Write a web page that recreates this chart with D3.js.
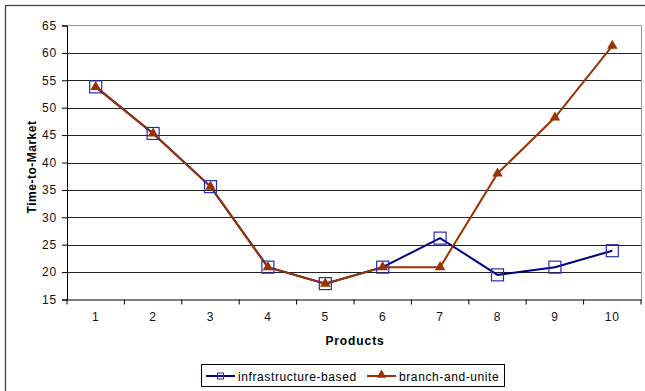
<!DOCTYPE html>
<html>
<head>
<meta charset="utf-8">
<script src="https://cdn.jsdelivr.net/npm/d3@7"></script>
<style>
  body { margin: 0; background: #fff; }
  text { font-family: Arial, "Liberation Sans", sans-serif; }
</style>
</head>
<body>
<div id="chart"></div>
<script>
const products = [1, 2, 3, 4, 5, 6, 7, 8, 9, 10];
const infrastructureBased = [53.8, 45.3, 35.6, 20.9, 17.9, 20.9, 26.2, 19.5, 20.9, 23.9];
const branchAndUnite = [53.8, 45.3, 35.6, 20.9, 17.9, 20.9, 20.9, 38, 48.2, 61.3];
const yTicks = [15, 20, 25, 30, 35, 40, 45, 50, 55, 60, 65];

const width = 645, height = 391;
const plotLeft = 67, plotRight = 641, plotTop = 25.5, plotBottom = 299.5;
const font = 'Arial, "Liberation Sans", sans-serif';

const svg = d3.select('#chart').append('svg')
    .attr('width', width)
    .attr('height', height);

// outer chart frame
svg.append('rect')
    .attr('x', 5.5).attr('y', 5.5)
    .attr('width', 650).attr('height', 400)
    .attr('fill', 'none')
    .attr('stroke', '#444')
    .attr('stroke-width', 1.3);

const x = d3.scaleBand().domain(products).range([plotLeft, plotRight]);
const y = d3.scaleLinear().domain([15, 65]).range([plotBottom, plotTop]);

// gridlines
svg.append('g')
    .selectAll('line')
    .data(yTicks.slice(1, -1))
    .enter().append('line')
    .attr('x1', plotLeft).attr('x2', plotRight)
    .attr('y1', d => Math.round(y(d)) + 0.5)
    .attr('y2', d => Math.round(y(d)) + 0.5)
    .attr('stroke', '#222');

// plot area border (top and right)
svg.append('path')
    .attr('d', `M${plotLeft},${plotTop}H${plotRight + 0.5}V${plotBottom}`)
    .attr('fill', 'none')
    .attr('stroke', '#999');

// y axis
const yAxis = svg.append('g')
    .attr('transform', `translate(${plotLeft},0)`)
    .call(d3.axisLeft(y).tickValues(yTicks).tickSize(5).tickPadding(5));
yAxis.select('.domain').attr('stroke', '#000');
yAxis.selectAll('line').attr('stroke', '#000');
yAxis.selectAll('text').attr('font-size', 12).attr('fill', '#111')
    .attr('letter-spacing', 0.8)
    .style('font-family', font);

// x axis
const xAxis = svg.append('g')
    .attr('transform', `translate(0,${plotBottom})`)
    .call(d3.axisBottom(x).tickSize(0).tickPadding(13));
xAxis.select('.domain').attr('stroke', '#000');
xAxis.selectAll('text').attr('font-size', 12).attr('fill', '#111')
    .attr('letter-spacing', 0.8)
    .style('font-family', font);
// category boundary ticks
svg.append('g')
    .selectAll('line')
    .data(products.concat([null]))
    .enter().append('line')
    .attr('x1', (d, i) => plotLeft + i * x.step())
    .attr('x2', (d, i) => plotLeft + i * x.step())
    .attr('y1', plotBottom).attr('y2', plotBottom + 5)
    .attr('stroke', '#000');

// axis titles
svg.append('text')
    .attr('transform', 'translate(36,167) rotate(-90)')
    .attr('text-anchor', 'middle')
    .attr('font-size', 12).attr('font-weight', 'bold')
    .attr('letter-spacing', 0.5)
    .text('Time-to-Market');

svg.append('text')
    .attr('x', 355).attr('y', 345)
    .attr('text-anchor', 'middle')
    .attr('font-size', 12).attr('font-weight', 'bold')
    .attr('letter-spacing', 0.9)
    .text('Products');

const cx = d => x(d) + x.bandwidth() / 2;
const line = d3.line().x((d, i) => cx(products[i])).y(d => y(d));

const blue = '#000080', brown = '#993300';

svg.append('path')
    .datum(infrastructureBased)
    .attr('d', line)
    .attr('fill', 'none')
    .attr('stroke', blue)
    .attr('stroke-width', 2);

svg.append('path')
    .datum(branchAndUnite)
    .attr('d', line)
    .attr('fill', 'none')
    .attr('stroke', brown)
    .attr('stroke-width', 2);

svg.append('g')
    .selectAll('rect')
    .data(infrastructureBased)
    .enter().append('rect')
    .attr('x', (d, i) => cx(products[i]) - 6)
    .attr('y', d => y(d) - 6)
    .attr('width', 12).attr('height', 12)
    .attr('fill', 'none')
    .attr('stroke', '#2a2ab0')
    .attr('stroke-width', 1.2);

const tri = d3.symbol().type(d3.symbolTriangle).size(48);
svg.append('g')
    .selectAll('path')
    .data(branchAndUnite)
    .enter().append('path')
    .attr('transform', (d, i) => `translate(${cx(products[i])},${y(d)})`)
    .attr('d', tri)
    .attr('fill', brown);

// legend
const legend = svg.append('g');
legend.append('rect')
    .attr('x', 201.5).attr('y', 364.5)
    .attr('width', 303).attr('height', 22)
    .attr('fill', '#fff')
    .attr('stroke', '#000');

const legendItems = [
    { name: 'infrastructure-based', color: blue, x: 206 },
    { name: 'branch-and-unite', color: brown, x: 367 }
];
legendItems.forEach((item, k) => {
    const g = legend.append('g').attr('transform', `translate(${item.x},376)`);
    g.append('line').attr('x1', 0).attr('x2', 29)
        .attr('stroke', item.color).attr('stroke-width', 2);
    if (k === 0) {
        g.append('rect').attr('x', 11.5).attr('y', -3).attr('width', 6).attr('height', 6)
            .attr('fill', 'none').attr('stroke', '#2a2ab0');
    } else {
        g.append('path').attr('transform', 'translate(14.5,-1)')
            .attr('d', d3.symbol().type(d3.symbolTriangle).size(40))
            .attr('fill', item.color);
    }
    g.append('text').attr('x', 32).attr('y', 4.5)
        .attr('font-size', 12)
        .attr('letter-spacing', 0.6)
        .text(item.name);
});
</script>
</body>
</html>
